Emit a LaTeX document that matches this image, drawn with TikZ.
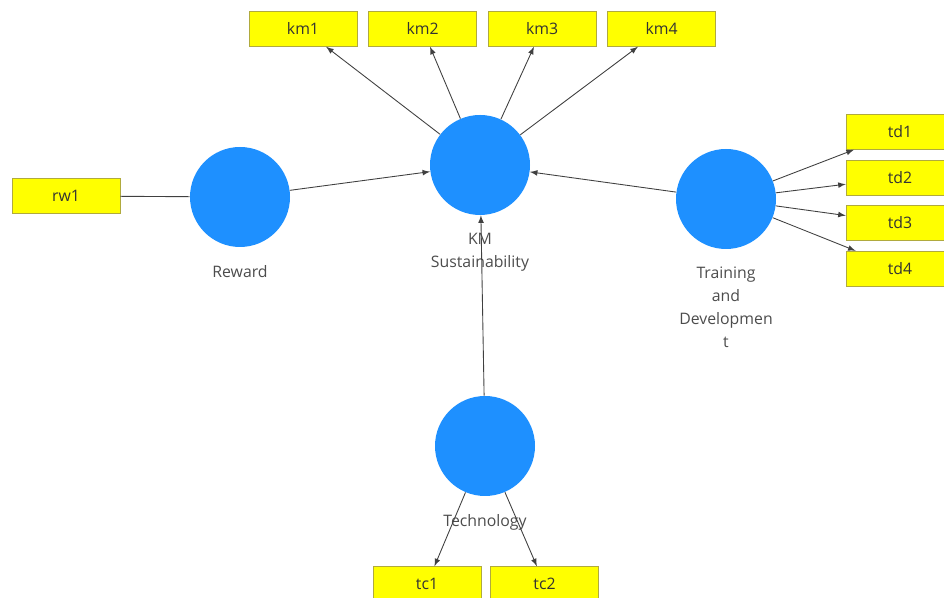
\documentclass[tikz,border=0pt]{standalone}
\usepackage{fontspec}
\setmainfont{Open Sans}
\usepackage{tikz}
\usetikzlibrary{arrows,positioning}

\definecolor{latentblue}{RGB}{30,144,255}
\definecolor{indyellow}{RGB}{255,255,0}

\begin{document}
\begin{tikzpicture}[
    node distance=0.22cm,
    latent/.style={circle, fill=latentblue, minimum size=2cm, inner sep=0pt},
    indicator/.style={rectangle, draw=yellow!65!black, line width=0.3pt, fill=indyellow, minimum width=2.16cm, minimum height=0.7cm, inner sep=0pt, font=\fontsize{9}{11}\selectfont, text=black!80},
    lbl/.style={font=\fontsize{9}{13}\selectfont, text=black!70, align=center, inner sep=0pt, yshift=-0.35cm},
    arrow/.style={-latex, line width=0.5pt, draw=black!75}
]
    \clip (0,0) rectangle (18.88,11.96);

    \node[latent, label={[lbl]below:{KM\\Sustainability}}] (km) at (9.6,8.66) {};
    \node[latent, label={[lbl]below:Reward}] (reward) at (4.8,8.02) {};
    \node[latent, label={[lbl]below:{Training\\and\\Developmen\\t}}] (train) at (14.52,7.98) {};
    \node[latent, label={[lbl]below:Technology}] (tech) at (9.7,3.04) {};

    \node[indicator] (rw1) at (1.32,8.04) {rw1};
    \node[indicator] (km1) at (6.06,11.38) {km1};
    \node[indicator, right=of km1] (km2) {km2};
    \node[indicator, right=of km2] (km3) {km3};
    \node[indicator, right=of km3] (km4) {km4};
    \node[indicator] (td1) at (18.0,9.32) {td1};
    \node[indicator, below=0.2cm of td1] (td2) {td2};
    \node[indicator, below=0.2cm of td2] (td3) {td3};
    \node[indicator, below=0.2cm of td3] (td4) {td4};
    \node[indicator] (tc1) at (8.54,0.28) {tc1};
    \node[indicator, right=0.18cm of tc1] (tc2) {tc2};

    \draw[line width=0.5pt, draw=black!75] (rw1) -- (reward);
    \draw[arrow] (reward) -- (km);
    \draw[arrow] (train) -- (km);
    \draw[arrow] (tech) -- (km);
    \draw[arrow] (km) -- (km1);
    \draw[arrow] (km) -- (km2);
    \draw[arrow] (km) -- (km3);
    \draw[arrow] (km) -- (km4);
    \draw[arrow] (train) -- (td1);
    \draw[arrow] (train) -- (td2);
    \draw[arrow] (train) -- (td3);
    \draw[arrow] (train) -- (td4);
    \draw[arrow] (tech) -- (tc1);
    \draw[arrow] (tech) -- (tc2);
\end{tikzpicture}
\end{document}
